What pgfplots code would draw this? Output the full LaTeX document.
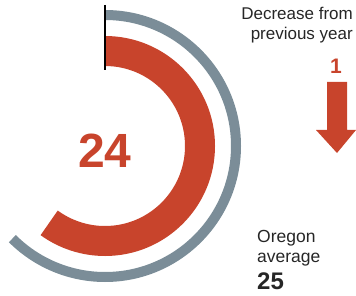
\documentclass[border=0pt]{standalone}
\usepackage{pgfplots}
\pgfplotsset{compat=1.18}
\usepackage{pgfplotstable}
\usepackage{fontspec}
\setmainfont{Liberation Sans}
\definecolor{gaugered}{HTML}{C8442C}
\definecolor{gaugegrey}{HTML}{7B8D98}
\definecolor{txt}{HTML}{262626}
\pgfplotstableread{
series value
county 24
oregon 25
}\gaugedata
\pgfplotstablegetelem{0}{value}\of\gaugedata
\let\countyval\pgfplotsretval
\pgfplotstablegetelem{1}{value}\of\gaugedata
\let\oregonval\pgfplotsretval
\def\gaugemax{40}
\begin{document}
\begin{tikzpicture}
\begin{axis}[
  width=356pt, height=295pt, scale only axis,
  xmin=0, xmax=356, ymin=0, ymax=295,
  hide axis, clip=false,
]
\path (axis cs:0,0) rectangle (axis cs:356,295);
% grey (Oregon average) arc
\pgfmathsetmacro{\endgrey}{90-\oregonval/\gaugemax*360}
\draw[gaugegrey, line width=10pt] (axis cs:105,149) ++(90:131pt)
  arc[start angle=90, end angle=\endgrey, radius=131pt];
% red (county) arc
\pgfmathsetmacro{\endred}{90-\countyval/\gaugemax*360}
\draw[gaugered, line width=30pt] (axis cs:105,149) ++(90:95pt)
  arc[start angle=90, end angle=\endred, radius=95pt];
% start line
\draw[black, line width=2pt] (axis cs:105,290) -- (axis cs:105,225);
% centre value
\node[anchor=base, text=gaugered, inner sep=0pt, font=\fontsize{48}{48}\selectfont\bfseries]
  at (axis cs:105,128) {\countyval};
% decrease text
\node[anchor=base east, text=txt, inner sep=0pt, font=\fontsize{17}{20}\selectfont]
  at (axis cs:353,275) {Decrease from};
\node[anchor=base east, text=txt, inner sep=0pt, font=\fontsize{17}{20}\selectfont]
  at (axis cs:353,255) {previous year};
\node[anchor=base, text=gaugered, inner sep=0pt, font=\fontsize{21}{21}\selectfont\bfseries]
  at (axis cs:336,221) {1};
% arrow
\fill[gaugered] (axis cs:327,213) -- (axis cs:347,213) -- (axis cs:347,165)
  -- (axis cs:356,165) -- (axis cs:337,142) -- (axis cs:316,165) -- (axis cs:327,165) -- cycle;
% Oregon average
\node[anchor=base west, text=txt, inner sep=0pt, font=\fontsize{17.5}{20}\selectfont]
  at (axis cs:257,53) {Oregon};
\node[anchor=base west, text=txt, inner sep=0pt, font=\fontsize{17.5}{20}\selectfont]
  at (axis cs:257,33) {average};
\node[anchor=base west, text=txt, inner sep=0pt, font=\fontsize{24}{24}\selectfont\bfseries]
  at (axis cs:257,6) {\oregonval};
\end{axis}
\end{tikzpicture}
\end{document}
